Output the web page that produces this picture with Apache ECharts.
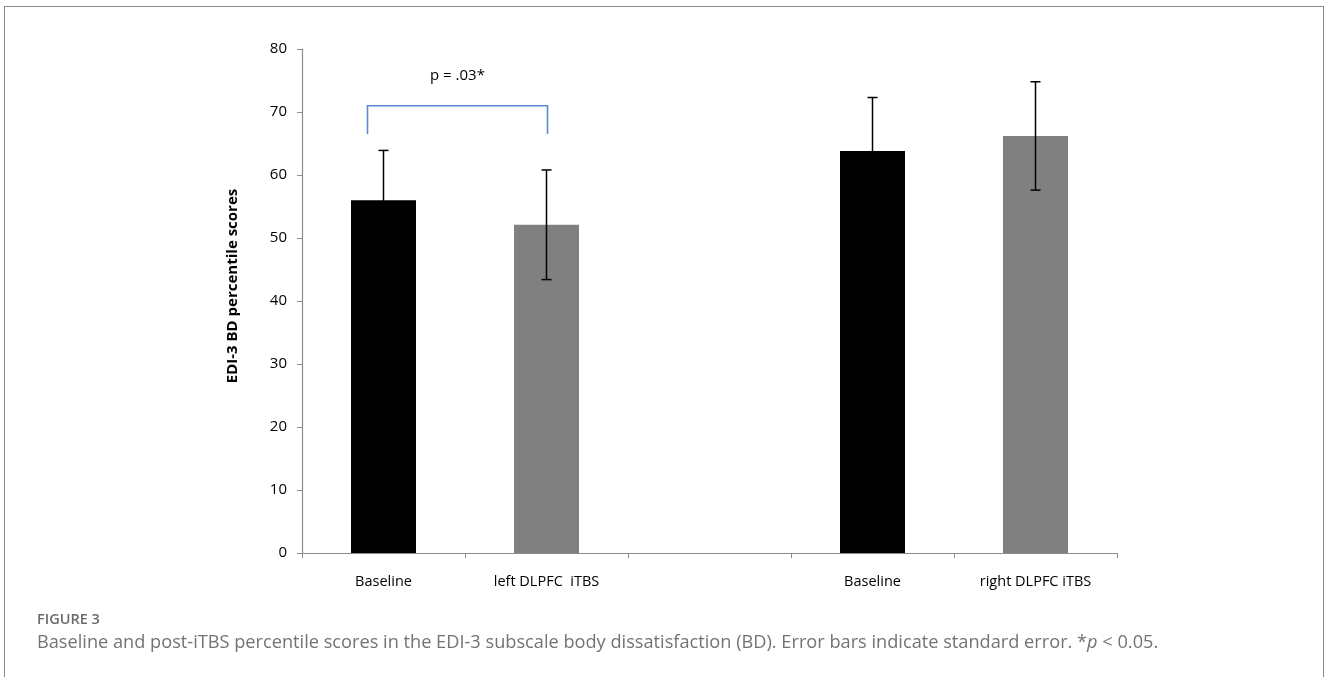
<!DOCTYPE html>
<html>
<head>
<meta charset="utf-8">
<script src="https://cdn.jsdelivr.net/npm/echarts@6/dist/echarts.min.js"></script>
<style>
    html, body { margin: 0; padding: 0; background: #fff; overflow: hidden; }
    #frame { position: absolute; left: 4px; top: 6px; width: 1320px; height: 700px; border: 1.5px solid #8a8a8a; box-sizing: border-box; }
    #chart { position: absolute; left: 0; top: 0; width: 1328px; height: 677px; }
</style>
</head>
<body>
<div id="frame"></div>
<div id="chart"></div>
<script>
// categories on the x axis (the empty one is the gap between the two groups)
var categories = ['Baseline', 'left DLPFC  iTBS', '', 'Baseline', 'right DLPFC iTBS'];
// mean percentile scores
var barValues = [56.0, 52.1, null, 63.8, 66.2];
// standard errors
var errValues = [7.9, 8.7, null, 8.5, 8.6];
// bar kind: 0 = baseline (black), 1 = post-iTBS (gray)
var barKinds = [0, 1, null, 0, 1];
var yTicks = [0, 10, 20, 30, 40, 50, 60, 70, 80];
// significance bracket: from category, to category, top value, foot value
var bracket = [0, 1, 71, 66.5];
var bracketText = 'p = .03*';
var bracketTextValue = 75.7;

(function(){
    var myChart = echarts.init(document.getElementById('chart'));
    var kindColors = ['#000000', '#808080'];

    var barData = barValues.map(function(v, i){
        if (v == null) return null;
        return { value: v, itemStyle: { color: kindColors[barKinds[i]] } };
    });
    var errData = [];
    barValues.forEach(function(v, i){
        if (v != null) errData.push([i, v, errValues[i]]);
    });

    var option = {
        animation: false,
        grid: { left: 302, right: 211, top: 49, bottom: 124, containLabel: false },
        xAxis: {
            type: 'category',
            data: categories,
            boundaryGap: true,
            axisLine: { lineStyle: { color: '#8c8c8c', width: 1.2 } },
            axisTick: { show: true, length: 5, lineStyle: { color: '#8c8c8c' } },
            axisLabel: { color: '#000', fontFamily: 'Open Sans', fontSize: 14.5, margin: 21, interval: 0 }
        },
        yAxis: {
            type: 'value',
            min: yTicks[0],
            max: yTicks[yTicks.length - 1],
            interval: yTicks[1] - yTicks[0],
            name: 'EDI-3 BD percentile scores',
            nameLocation: 'middle',
            nameGap: 62,
            nameRotate: 90,
            nameTextStyle: { color: '#000', fontFamily: 'Open Sans', fontWeight: 'bold', fontSize: 15, padding: [0, 0, 0, 30] },
            axisLine: { show: true, lineStyle: { color: '#8c8c8c', width: 1.2 } },
            axisTick: { show: true, length: 5, lineStyle: { color: '#8c8c8c' } },
            axisLabel: { color: '#000', fontFamily: 'Open Sans', fontSize: 15, margin: 15 },
            splitLine: { show: false }
        },
        series: [
            {
                name: 'scores',
                type: 'bar',
                data: barData,
                barWidth: 65,
                itemStyle: { borderWidth: 0 }
            },
            {
                name: 'error',
                type: 'custom',
                data: errData,
                z: 5,
                renderItem: function(params, api){
                    var x = api.value(0), v = api.value(1), e = api.value(2);
                    var hi = api.coord([x, v + e]);
                    var lo = api.coord([x, v - e]);
                    var cap = 5;
                    var st = { stroke: '#000', lineWidth: 1.5 };
                    return {
                        type: 'group',
                        children: [
                            { type: 'line', shape: { x1: hi[0], y1: hi[1], x2: lo[0], y2: lo[1] }, style: st },
                            { type: 'line', shape: { x1: hi[0] - cap, y1: hi[1], x2: hi[0] + cap, y2: hi[1] }, style: st },
                            { type: 'line', shape: { x1: lo[0] - cap, y1: lo[1], x2: lo[0] + cap, y2: lo[1] }, style: st }
                        ]
                    };
                }
            },
            {
                name: 'bracket',
                type: 'custom',
                data: [bracket],
                z: 6,
                renderItem: function(params, api){
                    var a = api.coord([api.value(0), api.value(2)]);
                    var b = api.coord([api.value(1), api.value(2)]);
                    var foot = api.coord([api.value(0), api.value(3)])[1];
                    var t = api.coord([api.value(0), bracketTextValue])[1];
                    var xa = a[0] - 16, xb = b[0] + 1;
                    return {
                        type: 'group',
                        children: [
                            { type: 'polyline', shape: { points: [[xa, foot], [xa, a[1]], [xb, b[1]], [xb, foot]] },
                              style: { stroke: '#5b8bd0', lineWidth: 1.6, fill: null } },
                            { type: 'text', x: (xa + xb) / 2, y: t,
                              style: { text: bracketText, fill: '#000', font: '15px "Open Sans"', align: 'center', verticalAlign: 'middle' } }
                        ]
                    };
                }
            }
        ],
        graphic: [
            { type: 'text', left: 37, top: 612,
              style: { text: 'FIGURE 3', fill: '#6a6a6a', font: '600 14.5px "Open Sans"' } },
            { type: 'text', left: 37, top: 634,
              style: {
                  text: '{n|Baseline and post-iTBS percentile scores in the EDI-3 subscale body dissatisfaction (BD). Error bars indicate standard error. *}{i|p}{n| < 0.05.}',
                  rich: {
                      n: { fill: '#737373', font: '18.2px "Open Sans"' },
                      i: { fill: '#737373', font: 'italic 18.2px "Open Sans"' }
                  }
              } }
        ]
    };
    myChart.setOption(option);
})();
</script>
</body>
</html>
